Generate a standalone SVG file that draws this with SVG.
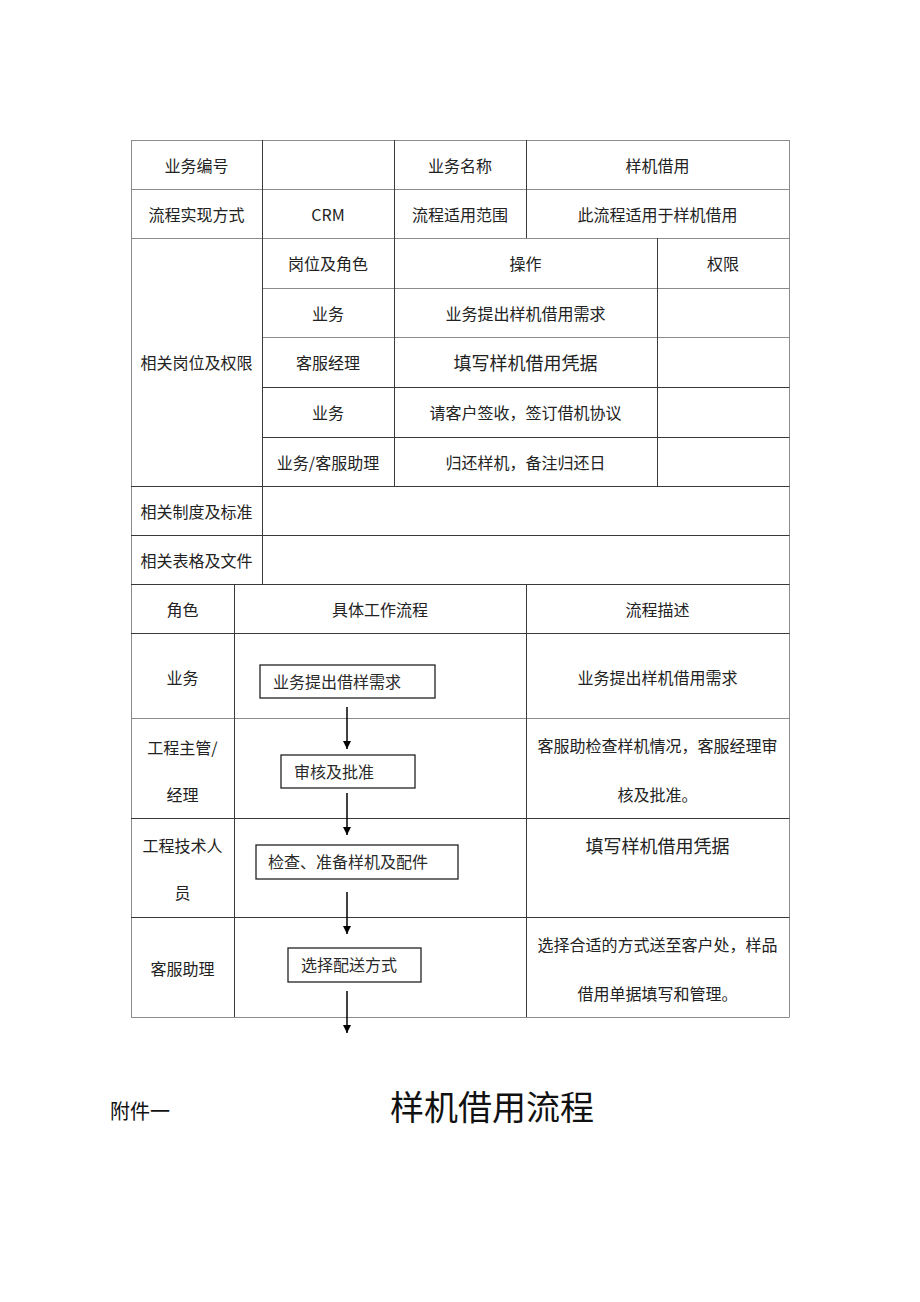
<svg xmlns="http://www.w3.org/2000/svg" width="920" height="1302" viewBox="0 0 920 1302">
<style>
.t{font-family:"Noto Sans CJK SC","Liberation Sans",sans-serif;font-size:16px;fill:#222;text-anchor:middle;dominant-baseline:central}
.big{font-size:18px}
.bx{font-family:"Liberation Serif","Noto Sans CJK SC",serif;font-size:16px;font-weight:400;fill:#2a2a2a;dominant-baseline:central}
.lg{stroke:#8c8c8c;stroke-width:1;fill:none}
.dk{stroke:#3a3a3a;stroke-width:1;fill:none}
.box{fill:#fff;stroke:#222;stroke-width:1.3}
.ar{stroke:#000;stroke-width:1.5;fill:none}
</style>
<defs>
<marker id="ah" markerWidth="10" markerHeight="10" refX="8" refY="4" orient="auto" markerUnits="userSpaceOnUse">
<path d="M0,0 L8,4 L0,8 Z" fill="#000"/>
</marker>
</defs>
<rect width="920" height="1302" fill="#fff"/>
<g id="grid">
<path class="lg" d="M131,140.5H789.5M131,189.5H789.5M131,238.5H789.5M262,288.5H789.5M262,337.5H789.5M131,718.5H789.5M131,1017.5H789.5"/>
<path class="lg" d="M131.5,140V1017M789.5,140V1017"/>
<path class="dk" d="M262,387.5H789.5M262,437.5H789.5M131,486.5H789.5M131,535.5H789.5M131,584.5H789.5M131,633.5H789.5M131,818.5H789.5M131,917.5H789.5"/>
<path class="dk" d="M262.5,140V584M394.5,140V486M526.5,140V238M657.5,238V486M234.5,584V1017M526.5,584V1017"/>
</g>
<g id="header-rows">
<text class="t" x="196.5" y="165">业务编号</text>
<text class="t" x="460" y="165">业务名称</text>
<text class="t" x="657.5" y="165">样机借用</text>
<text class="t" x="196.5" y="214">流程实现方式</text>
<text class="t" x="328" y="214">CRM</text>
<text class="t" x="460" y="214">流程适用范围</text>
<text class="t" x="657.5" y="214">此流程适用于样机借用</text>
</g>
<g id="roles-table">
<text class="t" x="196.5" y="362">相关岗位及权限</text>
<text class="t" x="328" y="263">岗位及角色</text>
<text class="t" x="525.5" y="263">操作</text>
<text class="t" x="723" y="263">权限</text>
<text class="t" x="328" y="312.5">业务</text>
<text class="t" x="525.5" y="312.5">业务提出样机借用需求</text>
<text class="t" x="328" y="362">客服经理</text>
<text class="t big" x="525.5" y="362">填写样机借用凭据</text>
<text class="t" x="328" y="412">业务</text>
<text class="t" x="525.5" y="412">请客户签收，签订借机协议</text>
<text class="t" x="328" y="461.5">业务/客服助理</text>
<text class="t" x="525.5" y="461.5">归还样机，备注归还日</text>
</g>
<g id="std-rows">
<text class="t" x="196.5" y="510.5">相关制度及标准</text>
<text class="t" x="196.5" y="559.5">相关表格及文件</text>
<text class="t" x="182.5" y="608.5">角色</text>
<text class="t" x="380" y="608.5">具体工作流程</text>
<text class="t" x="657.5" y="608.5">流程描述</text>
</g>
<g id="lane-roles">
<text class="t" x="182.5" y="677">业务</text>
<text class="t" x="182.5" y="747">工程主管/</text>
<text class="t" x="182.5" y="794">经理</text>
<text class="t" x="182.5" y="845">工程技术人</text>
<text class="t" x="182.5" y="892">员</text>
<text class="t" x="182.5" y="968">客服助理</text>
</g>
<g id="descriptions">
<text class="t" x="657.5" y="677">业务提出样机借用需求</text>
<text class="t" x="657.5" y="745">客服助检查样机情况，客服经理审</text>
<text class="t" x="657.5" y="794">核及批准。</text>
<text class="t big" x="657.5" y="845">填写样机借用凭据</text>
<text class="t" x="657.5" y="944">选择合适的方式送至客户处，样品</text>
<text class="t" x="657.5" y="993">借用单据填写和管理。</text>
</g>
<g id="node1">
<rect class="box" x="260" y="665" width="175" height="33"/>
<text class="bx" x="273" y="682">业务提出借样需求</text>
</g>
<g id="node2">
<rect class="box" x="281" y="755" width="134" height="33"/>
<text class="bx" x="294" y="772">审核及批准</text>
</g>
<g id="node3">
<rect class="box" x="256" y="845" width="202" height="34"/>
<text class="bx" x="268" y="862">检查、准备样机及配件</text>
</g>
<g id="node4">
<rect class="box" x="288" y="948" width="133" height="34"/>
<text class="bx" x="301" y="965">选择配送方式</text>
</g>
<g id="connectors">
<line class="ar" x1="347" y1="707" x2="347" y2="749" marker-end="url(#ah)"/>
<line class="ar" x1="347" y1="793" x2="347" y2="835" marker-end="url(#ah)"/>
<line class="ar" x1="347" y1="892" x2="347" y2="934" marker-end="url(#ah)"/>
<line class="ar" x1="347" y1="991" x2="347" y2="1033" marker-end="url(#ah)"/>
</g>
<g id="footer">
<text x="110" y="1110" style="font-family:'Noto Sans CJK SC','Liberation Sans',sans-serif;font-size:20px;fill:#111;dominant-baseline:central">附件一</text>
<text x="492" y="1105" style="font-family:'Noto Sans CJK SC','Liberation Sans',sans-serif;font-size:34px;fill:#111;text-anchor:middle;dominant-baseline:central">样机借用流程</text>
</g>
</svg>
